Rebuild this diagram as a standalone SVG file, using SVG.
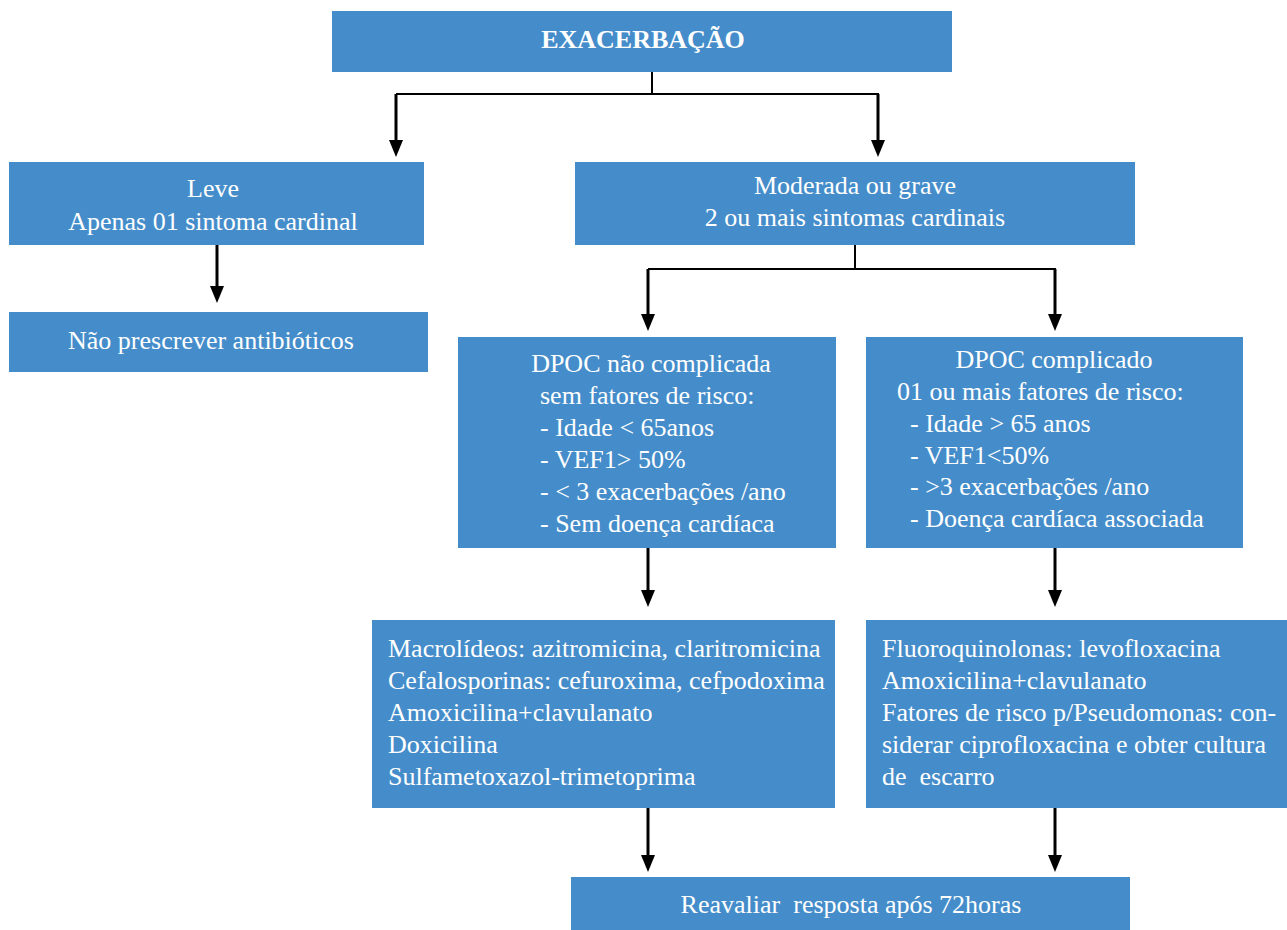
<svg xmlns="http://www.w3.org/2000/svg" width="1287" height="930" viewBox="0 0 1287 930">
<style>
.box{fill:#458DCA}
text{font-family:'Liberation Serif','Times New Roman',Times,'DejaVu Serif',serif;font-size:26px;fill:#fff}
.c{text-anchor:middle}
.b{font-weight:bold;font-size:26px}
.ln{stroke:#000;stroke-width:2;fill:none}
.st{stroke:#000;stroke-width:3;fill:none}
.hd{fill:#000}
</style>
<rect width="1287" height="930" fill="#fff"/>
<g id="connectors">
<line class="ln" x1="652" y1="72" x2="652" y2="94"/>
<line class="ln" x1="396" y1="94" x2="879" y2="94"/>
<path class="st" d="M396,94 V150"/>
<path class="hd" d="M389,140 L403,140 L396,157 Z"/>
<path class="st" d="M878,94 V150"/>
<path class="hd" d="M871,140 L885,140 L878,157 Z"/>
<path class="st" d="M217,245 V296"/>
<path class="hd" d="M210,286 L224,286 L217,303 Z"/>
<line class="ln" x1="855" y1="245" x2="855" y2="269"/>
<line class="ln" x1="648" y1="269" x2="1056" y2="269"/>
<path class="st" d="M648,269 V324"/>
<path class="hd" d="M641,314 L655,314 L648,331 Z"/>
<path class="st" d="M1055,269 V324"/>
<path class="hd" d="M1048,314 L1062,314 L1055,331 Z"/>
<path class="st" d="M648,548 V600"/>
<path class="hd" d="M641,590 L655,590 L648,607 Z"/>
<path class="st" d="M1055,548 V600"/>
<path class="hd" d="M1048,590 L1062,590 L1055,607 Z"/>
<path class="st" d="M648,808 V865"/>
<path class="hd" d="M641,855 L655,855 L648,872 Z"/>
<path class="st" d="M1055,808 V865"/>
<path class="hd" d="M1048,855 L1062,855 L1055,872 Z"/>
</g>
<g id="exacerbacao">
<rect class="box" x="332" y="11" width="620" height="61"/>
<text class="c b" x="643" y="48">EXACERBAÇÃO</text>
</g>
<g id="leve">
<rect class="box" x="9" y="162" width="415" height="83"/>
<text class="c" x="213" y="197">Leve</text>
<text class="c" x="213" y="230">Apenas 01 sintoma cardinal</text>
</g>
<g id="nao-prescrever">
<rect class="box" x="9" y="312" width="419" height="60"/>
<text class="c" x="211" y="349">Não prescrever antibióticos</text>
</g>
<g id="moderada">
<rect class="box" x="575" y="162" width="560" height="83"/>
<text class="c" x="855" y="194">Moderada ou grave</text>
<text class="c" x="855" y="226">2 ou mais sintomas cardinais</text>
</g>
<g id="dpoc-nao-complicada">
<rect class="box" x="458" y="337" width="378" height="211"/>
<text class="c" x="651" y="372">DPOC não complicada</text>
<text x="540" y="404">sem fatores de risco:</text>
<text x="540" y="436">- Idade &lt; 65anos</text>
<text x="540" y="468">- VEF1&gt; 50%</text>
<text x="540" y="500">- &lt; 3 exacerbações /ano</text>
<text x="540" y="532">- Sem doença cardíaca</text>
</g>
<g id="dpoc-complicado">
<rect class="box" x="866" y="337" width="377" height="211"/>
<text class="c" x="1054" y="368">DPOC complicado</text>
<text x="897" y="400">01 ou mais fatores de risco:</text>
<text x="910" y="432">- Idade &gt; 65 anos</text>
<text x="910" y="464">- VEF1&lt;50%</text>
<text x="910" y="495">- &gt;3 exacerbações /ano</text>
<text x="910" y="527">- Doença cardíaca associada</text>
</g>
<g id="antibioticos-simples">
<rect class="box" x="372" y="620" width="463" height="188"/>
<text x="388" y="657">Macrolídeos: azitromicina, claritromicina</text>
<text x="388" y="689">Cefalosporinas: cefuroxima, cefpodoxima</text>
<text x="388" y="721">Amoxicilina+clavulanato</text>
<text x="388" y="753">Doxicilina</text>
<text x="388" y="785">Sulfametoxazol-trimetoprima</text>
</g>
<g id="antibioticos-complicado">
<rect class="box" x="866" y="620" width="421" height="188"/>
<text x="882" y="657">Fluoroquinolonas: levofloxacina</text>
<text x="882" y="689">Amoxicilina+clavulanato</text>
<text x="882" y="721">Fatores de risco p/Pseudomonas: con-</text>
<text x="882" y="753">siderar ciprofloxacina e obter cultura</text>
<text x="882" y="785" style="white-space:pre">de  escarro</text>
</g>
<g id="reavaliar">
<rect class="box" x="571" y="877" width="559" height="53"/>
<text class="c" x="851" y="913" style="white-space:pre">Reavaliar  resposta após 72horas</text>
</g>
</svg>
